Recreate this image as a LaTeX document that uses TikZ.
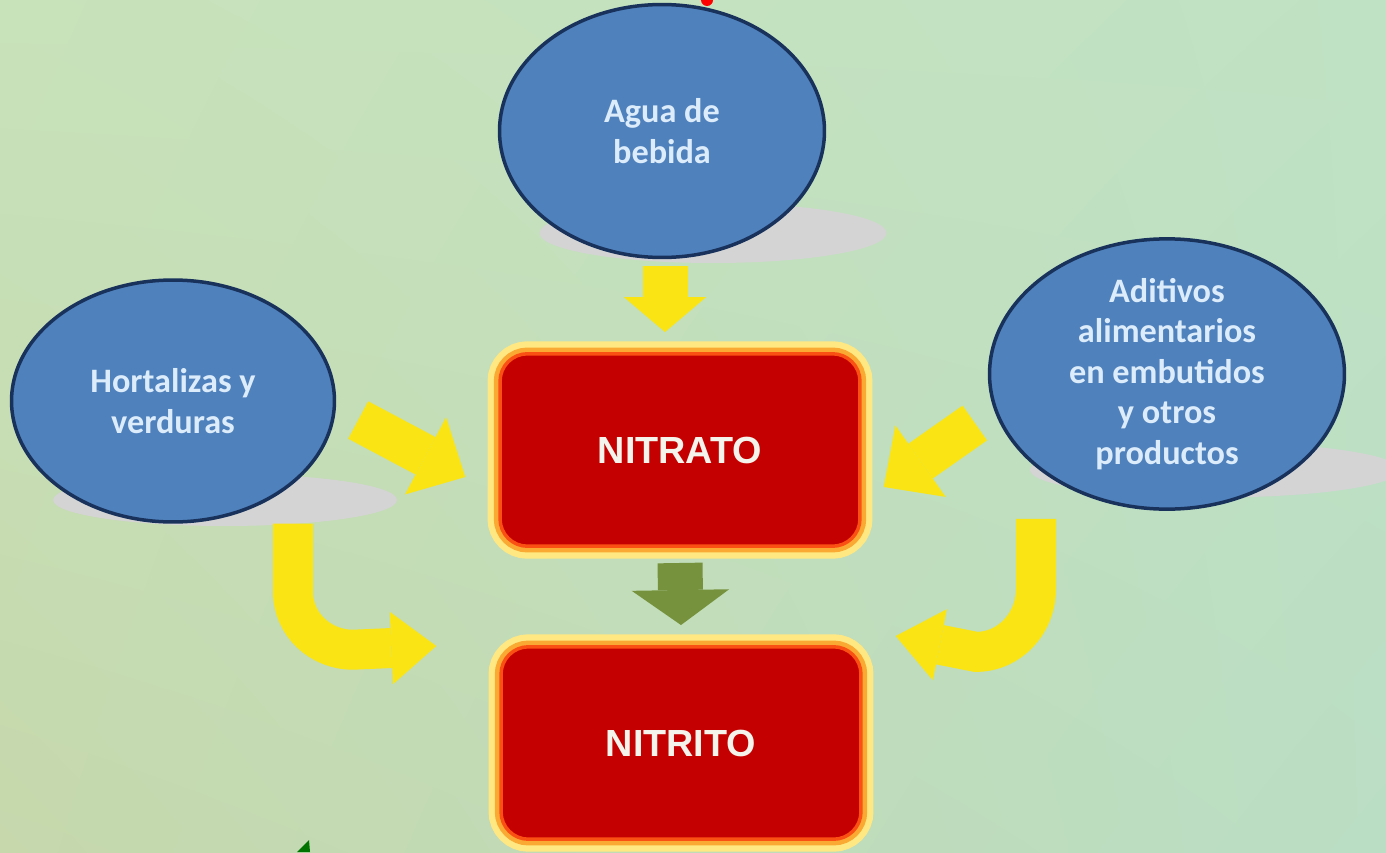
\documentclass[tikz,border=0pt]{standalone}
\usepackage{fontspec}
\setmainfont{Carlito}
\newfontfamily\cajafont{Liberation Sans}
\usetikzlibrary{shapes.geometric,arrows.meta,shadings}
\definecolor{azul}{RGB}{79,129,189}
\definecolor{azuloscuro}{RGB}{24,50,92}
\definecolor{textoazul}{RGB}{220,236,250}
\definecolor{rojo}{RGB}{196,0,0}
\definecolor{naranja}{RGB}{250,80,20}
\definecolor{naranjaclaro}{RGB}{250,170,50}
\definecolor{brillo}{RGB}{255,232,130}
\definecolor{blancocaja}{RGB}{244,244,236}
\definecolor{amarillo}{RGB}{250,228,20}
\definecolor{verde}{RGB}{118,146,60}
\definecolor{sombra}{RGB}{212,212,212}
\definecolor{fondoa}{RGB}{200,226,186}
\definecolor{fondob}{RGB}{192,226,196}
\definecolor{fondoc}{RGB}{198,216,172}
\definecolor{fondod}{RGB}{186,222,196}

\begin{document}
\begin{tikzpicture}[x=0.02cm,y=-0.02cm,
  fuente/.style={ellipse,draw=azuloscuro,line width=0.07cm,fill=azul,text=textoazul,
    font=\bfseries\fontsize{19.5}{23}\selectfont,align=center,inner sep=0pt},
  caja/.style={rectangle,rounded corners=0.55cm,fill=rojo,draw=naranja,line width=0.07cm,
    preaction={draw=brillo,line width=0.5cm},preaction={draw=naranjaclaro,line width=0.25cm},
    text=blancocaja,font=\cajafont\bfseries\fontsize{21.5}{26}\selectfont,
    minimum width=7.2cm,minimum height=3.85cm},
  flecha/.style={draw=amarillo,line width=0.85cm,-{Triangle[length=0.9cm,width=1.75cm,line width=0pt]}}]
\useasboundingbox (0,0) rectangle (1386,852);
\shade[upper left=fondoa,upper right=fondob,lower left=fondoc,lower right=fondod]
  (0,0) rectangle (1386,852);
\fill[sombra] (713,233) ellipse [x radius=3.47cm,y radius=0.6cm];
\fill[sombra] (225,500) ellipse [x radius=3.44cm,y radius=0.52cm];
\fill[sombra] (1215,470) ellipse [x radius=3.7cm,y radius=0.55cm];
\fill[red] (707,0) circle (0.12cm);
\fill[green!45!black] (297,852) -- (309,840) -- (310,852) -- cycle;
\node[fuente,minimum width=6.5cm,minimum height=5.06cm] (agua) at (662,131) {Agua de\\bebida};
\node[fuente,minimum width=6.46cm,minimum height=4.84cm] (hortalizas) at (173,401) {Hortalizas y\\verduras};
\node[fuente,minimum width=7.1cm,minimum height=4.9cm] (aditivos) at (1167,374)
  {Aditivos\\alimentarios\\en embutidos\\y otros\\productos};
\node[caja] (nitrato) at (680,450) {NITRATO};
\node[caja] (nitrito) at (681,743) {NITRITO};
\draw[flecha,line width=0.9cm,-{Triangle[length=0.7cm,width=1.65cm,line width=0pt]}]
  ([shift={(3,7)}]agua.south) -- ([shift={(-15,-20)}]nitrato.north);
\draw[flecha] ([shift={(22,19)}]hortalizas.east) -- ([shift={(-33,27)}]nitrato.west);
\draw[flecha] ([shift={(-13,49)}]aditivos.west) -- ([shift={(22,37)}]nitrato.east);
\draw[flecha,line width=0.8cm,-{Triangle[length=0.9cm,width=1.45cm,line width=0pt]}]
  ([shift={(120,0)}]hortalizas.south) -- ++(0,68) to[out=-90,in=180] ++(60,58)
  -- ([shift={(-63,1)}]nitrito.north west);
\draw[flecha,line width=0.8cm,-{Triangle[length=0.9cm,width=1.45cm,line width=0pt]}]
  ([shift={(-131,8)}]aditivos.south) -- ++(0,70) to[out=-90,in=0] ++(-60,63)
  -- ([shift={(33,-9)}]nitrito.north east);
\draw[draw=verde,line width=0.9cm,-{Triangle[length=0.7cm,width=1.95cm,line width=0pt]}]
  ([shift={(0,15)}]nitrato.south) -- ([shift={(0,-20)}]nitrito.north);
\end{tikzpicture}
\end{document}
